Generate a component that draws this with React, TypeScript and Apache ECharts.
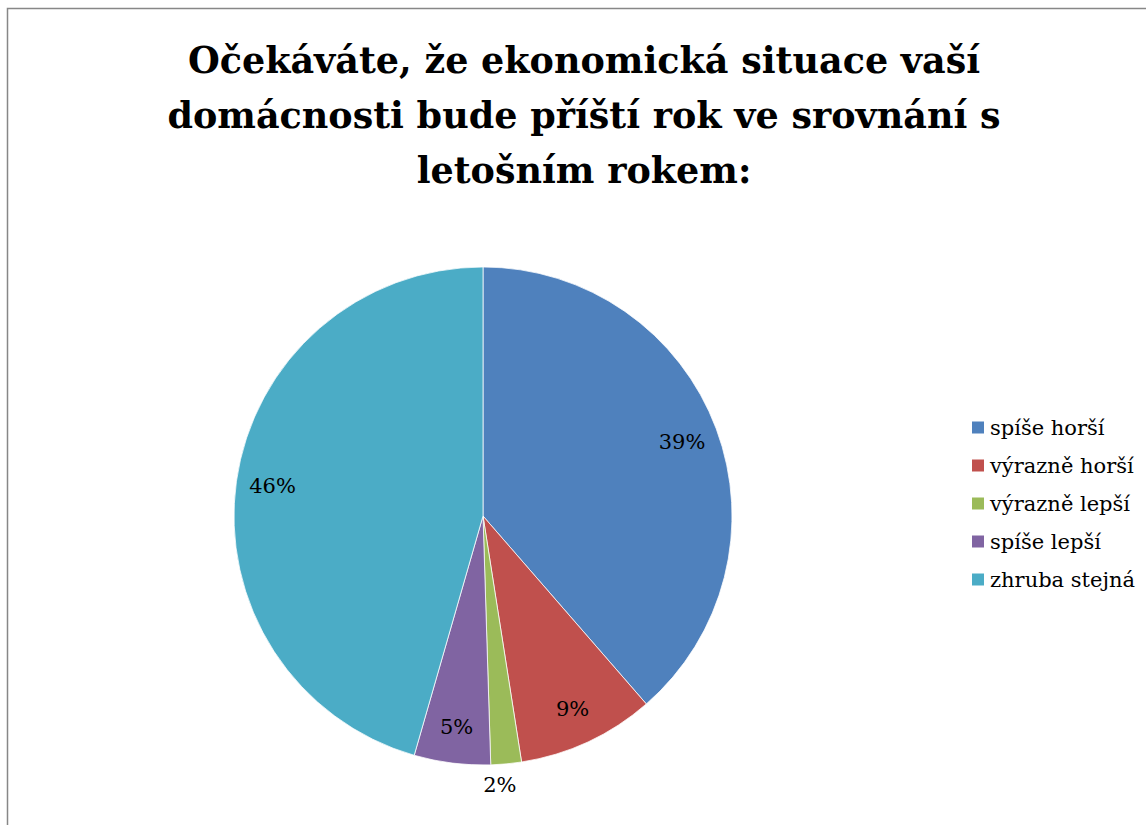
import React, { useEffect, useRef } from "react";
import * as echarts from "echarts";

const titleLines = [
  "Očekáváte, že ekonomická situace vaší",
  "domácnosti bude příští rok ve srovnání s",
  "letošním rokem:",
];
const categories = ["spíše horší", "výrazně horší", "výrazně lepší", "spíše lepší", "zhruba stejná"];
const values = [39, 9, 2, 5, 46];
const colors = ["#4F81BD", "#C0504D", "#9BBB59", "#8064A2", "#4BACC6"];
const outsideLabelIndex = 2;

const FONT = "DejaVu Serif";

export default function App() {
  const ref = useRef<HTMLDivElement>(null);
  useEffect(() => {
    document.body.style.margin = "0";
    const chart = echarts.init(ref.current!, null, { renderer: "svg" });
    const center = [483, 516];
    const R = 249;
    chart.setOption({
      animation: false,
      backgroundColor: "#ffffff",
      color: colors,
      title: {
        text: titleLines.join("\n"),
        left: 584,
        top: 33,
        padding: 0,
        textAlign: "center",
        textStyle: {
          fontFamily: FONT,
          fontWeight: "bold",
          fontSize: 36.5,
          lineHeight: 55,
          color: "#000",
        },
      },
      graphic: [
        {
          type: "rect",
          silent: true,
          shape: { x: 7.5, y: 8.5, width: 1300, height: 1000 },
          style: { fill: "none", stroke: "#878787", lineWidth: 1.5 },
        },
      ],
      legend: {
        orient: "vertical",
        left: 965,
        top: 410,
        icon: "rect",
        itemWidth: 14,
        itemHeight: 14,
        itemGap: 13,
        data: categories,
        textStyle: { fontFamily: FONT, fontSize: 21, lineHeight: 25, color: "#000" },
      },
      series: [
        {
          type: "pie",
          name: "main",
          center,
          radius: [0, R],
          startAngle: 90,
          clockwise: true,
          avoidLabelOverlap: false,
          itemStyle: { borderColor: "#ffffff", borderWidth: 0.75 },
          emphasis: { disabled: true },
          label: { show: false },
          labelLine: { show: false },
          labelLayout: (p: any) => (p.dataIndex === outsideLabelIndex ? { dx: -17 } : {}),
          data: categories.map((name, i) => ({
            name,
            value: values[i],
            label:
              i === outsideLabelIndex
                ? {
                    show: true,
                    position: "outside",
                    formatter: "{c}%",
                    fontFamily: FONT,
                    fontSize: 21,
                    color: "#000",
                    distanceToLabelLine: -8,
                  }
                : { show: false },
            labelLine: { show: false, length: 21, length2: 0 },
          })),
        },
        {
          type: "pie",
          name: "labels",
          center,
          radius: [170, R],
          startAngle: 90,
          clockwise: true,
          silent: true,
          avoidLabelOverlap: false,
          itemStyle: { color: "transparent", borderWidth: 0 },
          emphasis: { disabled: true },
          label: {
            show: true,
            position: "inside",
            formatter: "{c}%",
            fontFamily: FONT,
            fontSize: 21,
            color: "#000",
          },
          labelLine: { show: false },
          data: categories.map((name, i) => ({
            name,
            value: values[i],
            label: i === outsideLabelIndex ? { show: false } : {},
          })),
        },
      ],
    });
    return () => chart.dispose();
  }, []);
  return <div ref={ref} style={{ width: 1146, height: 825 }} />;
}
